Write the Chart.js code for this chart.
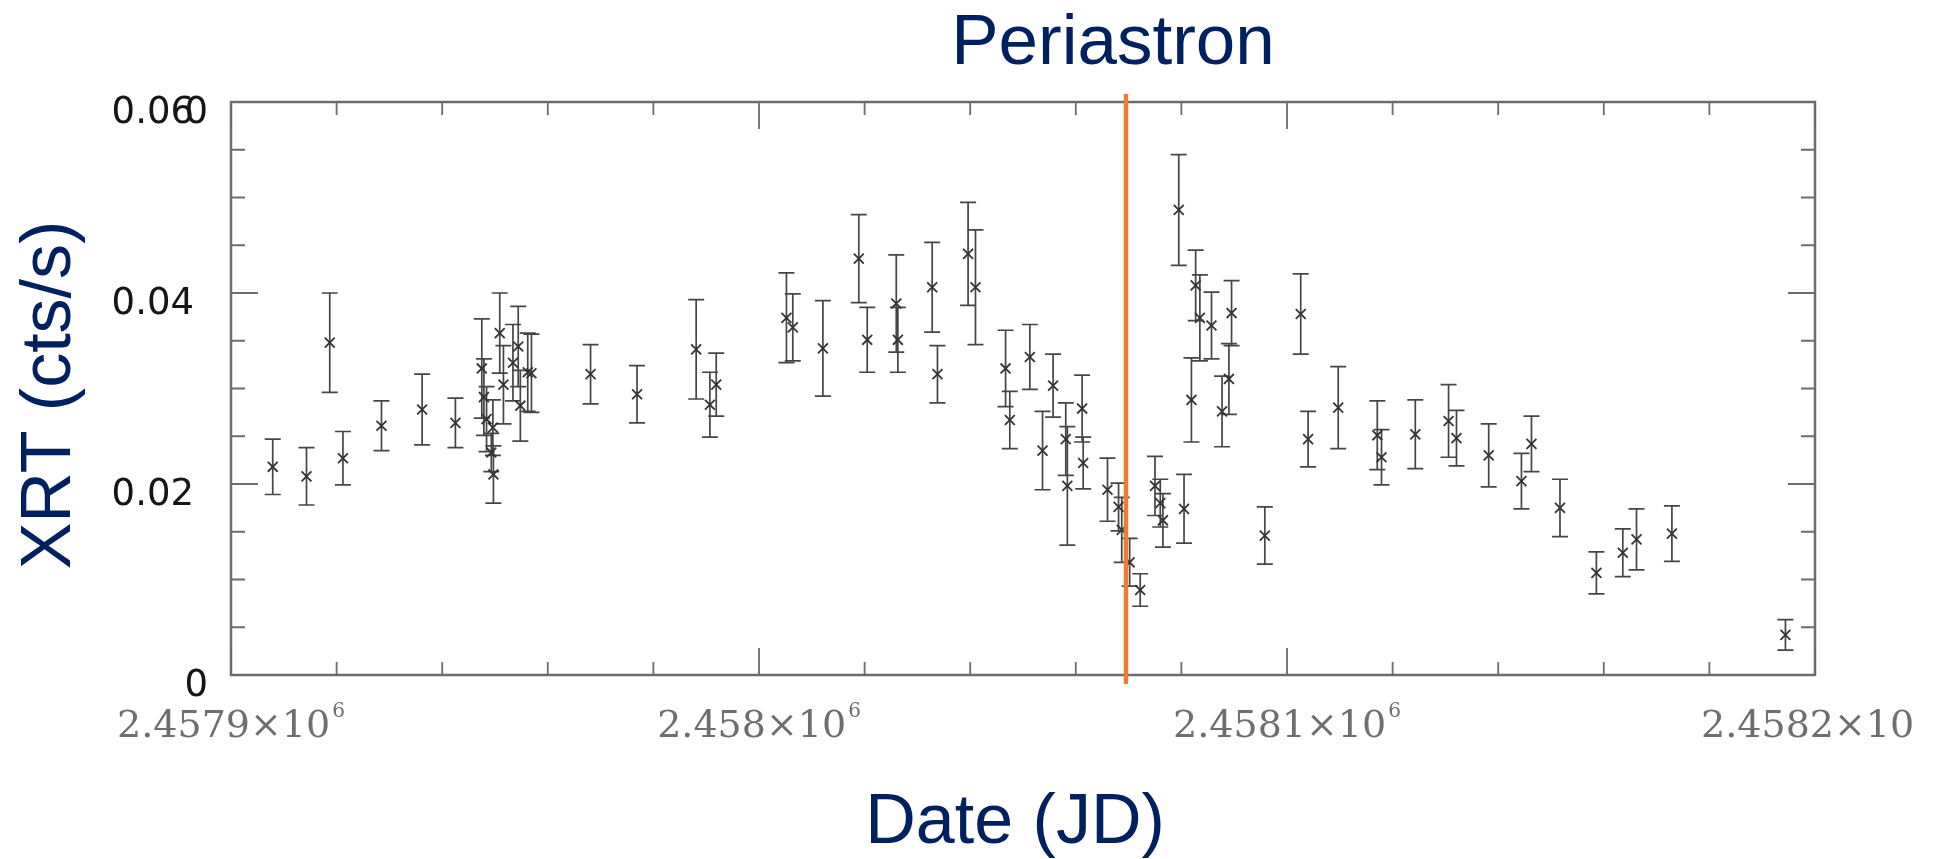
<!DOCTYPE html>
<html>
<head>
<meta charset="utf-8">
<title>XRT light curve</title>
<script src="https://cdn.jsdelivr.net/npm/chart.js@4.4.0/dist/chart.umd.min.js"></script>
<style>
    html, body { margin: 0; padding: 0; background: #ffffff; }
    #wrap { position: relative; width: 1940px; height: 859px; }
</style>
</head>
<body>
<div id="wrap"><canvas id="xrtChart"></canvas></div>
<script>
// Swift/XRT count rate per observation (Julian Date, cts/s, 1-sigma error)
const jdDays = [
    2457907.9, 2457914.3, 2457918.7, 2457921.2, 2457928.5, 2457936.2, 2457942.5,
    2457947.5, 2457947.9, 2457948.4, 2457949.3, 2457949.6, 2457949.7, 2457950.9,
    2457951.6, 2457953.4, 2457954.4, 2457954.8, 2457956.2, 2457956.9, 2457968.1,
    2457976.9, 2457988.1, 2457990.7, 2457991.9, 2458005.2, 2458006.4, 2458012.1,
    2458018.9, 2458020.5, 2458026.0, 2458026.3, 2458032.8, 2458033.8, 2458039.6,
    2458041.0, 2458046.7, 2458047.5, 2458051.3, 2458053.7, 2458055.7, 2458058.1,
    2458058.4, 2458061.2, 2458061.4, 2458066.0, 2458068.1, 2458068.7, 2458070.2,
    2458072.2, 2458075.0, 2458076.0, 2458076.5, 2458079.5, 2458080.5, 2458081.9,
    2458082.7, 2458083.5, 2458085.7, 2458087.7, 2458089.0, 2458089.5, 2458095.8,
    2458102.6, 2458104.0, 2458109.7, 2458117.1, 2458117.9, 2458124.3, 2458130.6,
    2458132.1, 2458138.2, 2458144.4, 2458146.3, 2458151.7, 2458158.6, 2458163.6,
    2458166.2, 2458172.9, 2458194.4
];
const xrtRate = [
    0.0218, 0.0208, 0.0348, 0.0227, 0.0261, 0.0278, 0.0264,
    0.0321, 0.0291, 0.0268, 0.0233, 0.0259, 0.0210, 0.0358,
    0.0304, 0.0327, 0.0344, 0.0282, 0.0317, 0.0316, 0.0315,
    0.0294, 0.0341, 0.0283, 0.0304, 0.0374, 0.0364, 0.0342,
    0.0436, 0.0351, 0.0389, 0.0351, 0.0406, 0.0315, 0.0441,
    0.0406, 0.0321, 0.0267, 0.0333, 0.0235, 0.0303, 0.0247,
    0.0198, 0.0279, 0.0222, 0.0194, 0.0176, 0.0152, 0.0118,
    0.0089, 0.0198, 0.0180, 0.0162, 0.0487, 0.0174, 0.0288,
    0.0408, 0.0374, 0.0366, 0.0276, 0.0310, 0.0379, 0.0146,
    0.0378, 0.0247, 0.0280, 0.0251, 0.0228, 0.0252, 0.0266,
    0.0248, 0.0230, 0.0203, 0.0242, 0.0175, 0.0107, 0.0128,
    0.0142, 0.0148, 0.0042
];
const xrtErr = [
    0.0029, 0.0030, 0.0052, 0.0028, 0.0026, 0.0037, 0.0026,
    0.0052, 0.0040, 0.0034, 0.0020, 0.0029, 0.0030, 0.0042,
    0.0041, 0.0040, 0.0042, 0.0037, 0.0041, 0.0041, 0.0031,
    0.0030, 0.0052, 0.0034, 0.0033, 0.0047, 0.0035, 0.0050,
    0.0046, 0.0034, 0.0051, 0.0034, 0.0047, 0.0030, 0.0054,
    0.0060, 0.0040, 0.0030, 0.0034, 0.0041, 0.0033, 0.0038,
    0.0062, 0.0035, 0.0027, 0.0033, 0.0025, 0.0034, 0.0025,
    0.0017, 0.0031, 0.0025, 0.0028, 0.0058, 0.0036, 0.0044,
    0.0037, 0.0045, 0.0035, 0.0037, 0.0037, 0.0034, 0.0030,
    0.0042, 0.0029, 0.0043, 0.0036, 0.0029, 0.0036, 0.0038,
    0.0029, 0.0033, 0.0029, 0.0029, 0.0030, 0.0022, 0.0025,
    0.0032, 0.0029, 0.0016
];

const periastronJD = 2458069.5;

const xTickValues = [2457900, 2458000, 2458100, 2458200];
const xTickLabels = ['2.4579\u00d710', '2.458\u00d710', '2.4581\u00d710', '2.4582\u00d710'];
const xTickExponent = '6';
const yTickValues = [0, 0.02, 0.04, 0.06];
const yTickLabels = ['0', '0.02', '0.04', '0.06'];

const navy = '#002060';
const markColor = '#333333';

function drawErrorBars(chart) {
    const ctx = chart.ctx;
    const xs = chart.scales.x;
    const ys = chart.scales.y;
    ctx.save();
    ctx.strokeStyle = '#454545';
    ctx.lineWidth = 1.7;
    jdDays.forEach((jd, i) => {
        const px = xs.getPixelForValue(jd);
        const top = ys.getPixelForValue(xrtRate[i] + xrtErr[i]);
        const bot = ys.getPixelForValue(xrtRate[i] - xrtErr[i]);
        ctx.beginPath();
        ctx.moveTo(px, top);
        ctx.lineTo(px, bot);
        ctx.moveTo(px - 8, top);
        ctx.lineTo(px + 8, top);
        ctx.moveTo(px - 8, bot);
        ctx.lineTo(px + 8, bot);
        ctx.stroke();
    });
    ctx.restore();
}

function drawFrame(chart) {
    const ctx = chart.ctx;
    const a = chart.chartArea;
    const xs = chart.scales.x;
    const ys = chart.scales.y;
    ctx.save();
    ctx.strokeStyle = '#6b6b6b';
    ctx.lineWidth = 2.5;
    ctx.strokeRect(a.left, a.top, a.right - a.left, a.bottom - a.top);

    // inward ticks on all four sides: minor every 20 d / 0.005, longer at the labelled values
    ctx.lineWidth = 1.8;
    ctx.beginPath();
    for (let k = 0; k <= 15; k++) {
        const v = xTickValues[0] + k * 20;
        const len = k % 5 === 0 ? 27 : 13;
        const px = xs.getPixelForValue(v);
        ctx.moveTo(px, a.bottom);
        ctx.lineTo(px, a.bottom - len);
        ctx.moveTo(px, a.top);
        ctx.lineTo(px, a.top + len);
    }
    for (let k = 0; k <= 12; k++) {
        const v = k * 0.005;
        const len = k % 4 === 0 ? 27 : 14;
        const py = ys.getPixelForValue(v);
        ctx.moveTo(a.left, py);
        ctx.lineTo(a.left + len, py);
        ctx.moveTo(a.right, py);
        ctx.lineTo(a.right - len, py);
    }
    ctx.stroke();
    ctx.restore();
}

function drawPeriastron(chart) {
    const ctx = chart.ctx;
    const a = chart.chartArea;
    const px = chart.scales.x.getPixelForValue(periastronJD);
    ctx.save();
    ctx.strokeStyle = '#ED7D31';
    ctx.lineWidth = 4.5;
    ctx.beginPath();
    ctx.moveTo(px, a.top - 8);
    ctx.lineTo(px, a.bottom + 9);
    ctx.stroke();

    ctx.fillStyle = navy;
    ctx.font = '71px "Liberation Sans", Arial, sans-serif';
    ctx.textAlign = 'center';
    ctx.textBaseline = 'alphabetic';
    ctx.fillText('Periastron', px - 13, 64);
    ctx.restore();
}

function drawTickLabels(chart) {
    const ctx = chart.ctx;
    const a = chart.chartArea;
    const xs = chart.scales.x;
    const ys = chart.scales.y;
    ctx.save();

    // y labels: decimals end a little left of the plain zeros
    ctx.fillStyle = '#151515';
    ctx.font = '37px "DejaVu Sans", sans-serif';
    ctx.textAlign = 'right';
    ctx.textBaseline = 'alphabetic';
    yTickValues.forEach((v, i) => {
        const py = ys.getPixelForValue(v) + 21;
        const label = yTickLabels[i];
        ctx.fillText(label, label === '0' ? a.left - 23 : a.left - 37, py);
        if (i === yTickValues.length - 1) {
            ctx.fillText('0', a.left - 23, py);
        }
    });

    // x labels in mantissa x 10^6 form, trimmed at the right margin
    ctx.beginPath();
    ctx.rect(0, a.bottom + 5, 1913, 80);
    ctx.clip();
    ctx.fillStyle = '#6e6e6e';
    ctx.filter = 'blur(0.4px)';
    ctx.textAlign = 'left';
    xTickValues.forEach((v, i) => {
        const px = xs.getPixelForValue(v);
        ctx.font = '38px "DejaVu Serif", serif';
        const w = ctx.measureText(xTickLabels[i]).width;
        ctx.font = '20px "DejaVu Serif", serif';
        const ws = ctx.measureText(xTickExponent).width;
        const start = px - (w + ws + 2) / 2;
        ctx.font = '38px "DejaVu Serif", serif';
        ctx.fillText(xTickLabels[i], start, a.bottom + 62);
        ctx.font = '20px "DejaVu Serif", serif';
        ctx.fillText(xTickExponent, start + w + 2, a.bottom + 42);
    });
    ctx.restore();
}

function drawAxisTitles(chart) {
    const ctx = chart.ctx;
    ctx.save();
    ctx.fillStyle = navy;
    ctx.font = '70px "Liberation Sans", Arial, sans-serif';
    ctx.textAlign = 'center';
    ctx.textBaseline = 'alphabetic';
    ctx.fillText('Date (JD)', 1015, 843);

    ctx.translate(70, 395);
    ctx.rotate(-Math.PI / 2);
    ctx.fillText('XRT (cts/s)', 0, 0);
    ctx.restore();
}

const decorPlugin = {
    id: 'lightCurveDecor',
    beforeDatasetsDraw(chart) {
        drawErrorBars(chart);
    },
    afterDatasetsDraw(chart) {
        drawFrame(chart);
        drawPeriastron(chart);
        drawTickLabels(chart);
        drawAxisTitles(chart);
    }
};

new Chart(document.getElementById('xrtChart'), {
    type: 'scatter',
    data: {
        datasets: [{
            label: 'XRT',
            data: jdDays.map((jd, i) => ({ x: jd, y: xrtRate[i] })),
            pointStyle: 'crossRot',
            pointRadius: 7,
            pointHoverRadius: 7,
            pointBorderWidth: 1.8,
            borderColor: markColor,
            backgroundColor: markColor
        }]
    },
    options: {
        responsive: true,
        maintainAspectRatio: false,
        animation: false,
        layout: {
            padding: { left: 231, right: 125, top: 102, bottom: 184 }
        },
        plugins: {
            legend: { display: false },
            tooltip: { enabled: false },
            title: { display: false }
        },
        scales: {
            x: {
                type: 'linear',
                min: xTickValues[0],
                max: xTickValues[xTickValues.length - 1],
                display: false
            },
            y: {
                type: 'linear',
                min: yTickValues[0],
                max: yTickValues[yTickValues.length - 1],
                display: false
            }
        }
    },
    plugins: [decorPlugin]
});
</script>
</body>
</html>
